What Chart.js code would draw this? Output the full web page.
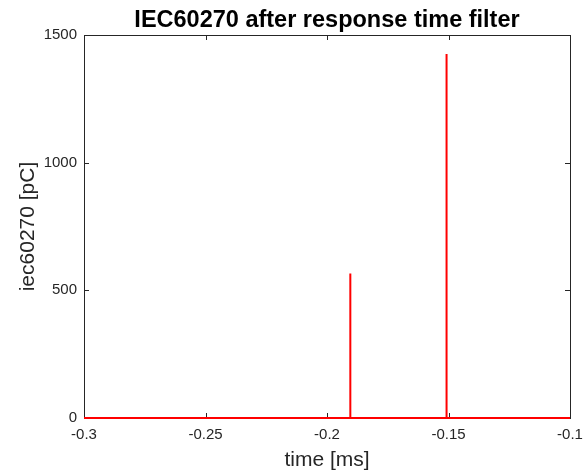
<!DOCTYPE html>
<html>
<head>
<meta charset="utf-8">
<script src="https://cdn.jsdelivr.net/npm/chart.js@4/dist/chart.umd.min.js"></script>
<style>
  html, body { margin: 0; padding: 0; background: #fff; }
  #wrap { width: 587px; height: 473px; }
</style>
</head>
<body>
<div id="wrap"><canvas id="c" width="587" height="473"></canvas></div>
<script>
// time [ms] and charge [pC] after the response time filter
const timeMs = [-0.3, -0.1904, -0.1904, -0.1904, -0.1508, -0.1508, -0.1508, -0.1];
const chargePc = [0, 0, 566, 0, 0, 1426, 0, 0];
const xTicks = [-0.3, -0.25, -0.2, -0.15, -0.1];
const yTicks = [0, 500, 1000, 1500];
const chartTitle = 'IEC60270 after response time filter';

const points = timeMs.map((t, i) => ({ x: t, y: chargePc[i] }));
const font = 'Arial, "Liberation Sans", Helvetica, sans-serif';

// matlab style box with inward ticks, title centred over the axes
const boxPlugin = {
  id: 'box',
  beforeDatasetsDraw(chart) {
    const { ctx, chartArea: a, scales } = chart;
    ctx.save();
    ctx.strokeStyle = '#262626';
    ctx.lineWidth = 1;
    ctx.strokeRect(a.left + 0.5, a.top + 0.5, a.right - a.left, a.bottom - a.top);
    ctx.beginPath();
    xTicks.forEach(v => {
      const px = Math.round(scales.x.getPixelForValue(v)) + 0.5;
      ctx.moveTo(px, a.bottom); ctx.lineTo(px, a.bottom - 5);
      ctx.moveTo(px, a.top); ctx.lineTo(px, a.top + 5);
    });
    yTicks.forEach(v => {
      const py = Math.round(scales.y.getPixelForValue(v)) + 0.5;
      ctx.moveTo(a.left, py); ctx.lineTo(a.left + 5, py);
      ctx.moveTo(a.right, py); ctx.lineTo(a.right - 5, py);
    });
    ctx.stroke();

    ctx.fillStyle = '#000';
    ctx.font = 'bold 23.5px ' + font;
    ctx.textAlign = 'center';
    ctx.textBaseline = 'alphabetic';
    ctx.fillText(chartTitle, (a.left + a.right) / 2, 27);
    ctx.restore();
  }
};

new Chart(document.getElementById('c'), {
  type: 'line',
  data: {
    datasets: [{
      data: points,
      borderColor: '#ff0000',
      borderWidth: 2,
      pointRadius: 0,
      tension: 0,
      fill: false,
      clip: false
    }]
  },
  options: {
    responsive: false,
    animation: false,
    layout: { padding: { left: 0, right: 17, top: 35, bottom: 0 } },
    plugins: {
      legend: { display: false },
      tooltip: { enabled: false },
      title: { display: false }
    },
    scales: {
      x: {
        type: 'linear',
        min: -0.3,
        max: -0.1,
        afterBuildTicks: s => { s.ticks = xTicks.map(v => ({ value: v })); },
        afterFit: s => { s.height = 55; s.paddingLeft = 0; s.paddingRight = 0; },
        grid: { display: false, drawTicks: false },
        border: { display: false },
        ticks: {
          color: '#262626',
          font: { family: font, size: 15 },
          padding: 8,
          maxRotation: 0,
          callback: v => String(v)
        },
        title: {
          display: true,
          text: 'time [ms]',
          color: '#262626',
          font: { family: font, size: 21 },
          padding: { top: 0, bottom: 0 }
        }
      },
      y: {
        min: 0,
        max: 1500,
        afterBuildTicks: s => { s.ticks = yTicks.map(v => ({ value: v })); },
        afterFit: s => { s.width = 84; s.paddingTop = 0; s.paddingBottom = 0; },
        grid: { display: false, drawTicks: false },
        border: { display: false },
        ticks: {
          color: '#262626',
          font: { family: font, size: 15 },
          padding: 7,
          callback: v => String(v)
        },
        title: {
          display: true,
          text: 'iec60270 [pC]',
          color: '#262626',
          font: { family: font, size: 21 },
          padding: { top: 16, bottom: 0 }
        }
      }
    }
  },
  plugins: [boxPlugin]
});
</script>
</body>
</html>
